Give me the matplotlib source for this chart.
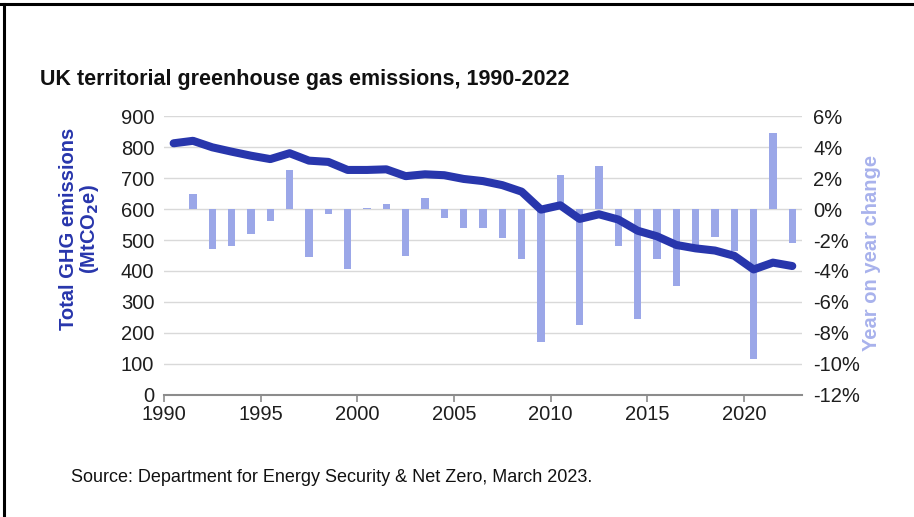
import matplotlib
matplotlib.use("Agg")
import matplotlib.pyplot as plt
from matplotlib.lines import Line2D
import numpy as np

plt.rcParams['font.family'] = ['Liberation Sans', 'DejaVu Sans']

# emissions, MtCO2e
years = list(range(1990, 2023))
emissions = [812, 820, 799, 785, 772, 761, 780, 756, 752, 726, 726, 728, 706,
             712, 709, 697, 690, 677, 656, 598, 612, 568, 583, 566, 530, 512,
             484, 473, 466, 449, 405, 427, 416]

# year on year change (%), 1991-2022
change_years = list(range(1991, 2023))
change_pct = [1.0, -2.6, -2.4, -1.6, -0.8, 2.5, -3.1, -0.3, -3.9, 0.05, 0.3,
              -3.0, 0.7, -0.6, -1.2, -1.2, -1.9, -3.2, -8.6, 2.2, -7.5, 2.8,
              -2.4, -7.1, -3.2, -5.0, -2.5, -1.8, -2.7, -9.7, 4.9, -2.2]

left_ticks = list(range(0, 1000, 100))
right_ticks = list(range(-12, 8, 2))
right_labels = [f"{t}%" for t in right_ticks]
year_ticks = list(range(1990, 2021, 5))

line_col = '#2836AC'
bar_col = '#9BA7E8'
text_col = '#1E1E1E'

fig = plt.figure(figsize=(9.14, 5.17), dpi=100)
ax = fig.add_axes([0.1794, 0.236, 0.698, 0.5396])
ax2 = ax.twinx()
ax.set_zorder(ax2.get_zorder() + 1)
ax.patch.set_visible(False)

# bars + grid on the right axis
x_bar = np.array(change_years) - 1990 + 0.5
ax2.bar(x_bar, change_pct, width=0.38, color=bar_col, zorder=2)
ax2.set_ylim(-12, 6)
ax2.set_yticks(right_ticks)
ax2.set_yticklabels(right_labels)
ax2.grid(axis='y', color='#D9D9D9', linewidth=1, zorder=0)
ax2.set_axisbelow(True)

# line on the left axis
x_line = np.array(years) - 1990 + 0.5
ax.plot(x_line, emissions, color=line_col, linewidth=5.8,
        solid_capstyle='round', solid_joinstyle='round', zorder=3)
ax.set_ylim(0, 900)
ax.set_yticks(left_ticks)
ax.set_xlim(0, 33)
ax.set_xticks([y - 1990 for y in year_ticks])
ax.set_xticklabels([str(y) for y in year_ticks])

for a in (ax, ax2):
    for s in a.spines.values():
        s.set_visible(False)
ax.spines['bottom'].set_visible(True)
ax.spines['bottom'].set_color('#8C8C8C')
ax.spines['bottom'].set_linewidth(1.5)

ax.tick_params(axis='y', length=0, labelsize=14.5, labelcolor=text_col, pad=7)
ax.tick_params(axis='x', length=5, width=1.2, color='#8C8C8C',
               labelsize=14.5, labelcolor=text_col, pad=2)
ax2.tick_params(axis='y', length=0, labelsize=14.5, labelcolor=text_col, pad=8)

fig.text(0.044, 1 - 79 / 517, "UK territorial greenhouse gas emissions, 1990-2022",
         fontsize=15.5, fontweight='bold', color='#111111', va='center')
fig.text(0.088, 1 - 229 / 517, "Total GHG emissions\n(MtCO$_\\mathbf{2}$e)",
         rotation=90, fontsize=14.5, fontweight='bold', color=line_col,
         ha='center', va='center', multialignment='center', linespacing=1.0)
fig.text(0.953, 1 - 253 / 517, "Year on year change", rotation=90,
         fontsize=14.5, fontweight='bold', color='#A8B2EC',
         ha='center', va='center')
fig.text(0.078, 1 - 477 / 517,
         "Source: Department for Energy Security & Net Zero, March 2023.",
         fontsize=13, color='#111111', va='center')

# frame: top and left border
fig.add_artist(Line2D([0, 1], [0.993, 0.993], color='black', linewidth=2.2))
fig.add_artist(Line2D([0.004, 0.004], [0, 0.993], color='black', linewidth=2.2))

fig.savefig("out.png", dpi=100)
